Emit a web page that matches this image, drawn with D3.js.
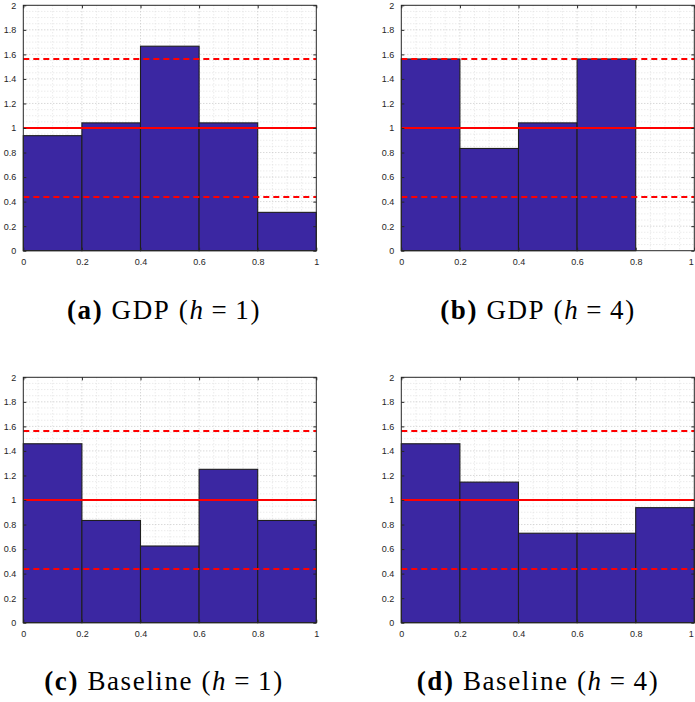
<!DOCTYPE html>
<html>
<head>
<meta charset="utf-8">
<script src="https://cdn.jsdelivr.net/npm/d3@7"></script>
<style>
  body { margin: 0; background: #fff; }
  svg { display: block; }
</style>
</head>
<body>
<script>
// Histogram bins on [0, 1]
const binEdges = [0, 0.2, 0.4, 0.6, 0.8, 1];

// Normalised bin heights for each panel
const gdpH1  = [0.9375, 1.0417, 1.6667, 1.0417, 0.3125];
const gdpH4  = [1.5625, 0.8333, 1.0417, 1.5625, 0];
const baseH1 = [1.4583, 0.8333, 0.625, 1.25, 0.8333];
const baseH4 = [1.4583, 1.1458, 0.7292, 0.7292, 0.9375];

// Reference level and confidence band
const refLevel = 1;
const bandUpper = 1.5625;
const bandLower = 0.4375;

// Tick values
const xTicks = [0, 0.2, 0.4, 0.6, 0.8, 1];
const yTicks = [0, 0.2, 0.4, 0.6, 0.8, 1, 1.2, 1.4, 1.6, 1.8, 2];
const minorStep = 0.05;

// Caption parts
const captionTags  = ["(a)", "(b)", "(c)", "(d)"];
const captionNames = ["GDP", "GDP", "Baseline", "Baseline"];
const captionH     = [1, 4, 1, 4];
const panelValues  = [gdpH1, gdpH4, baseH1, baseH4];

const W = 695, H = 702;
const svg = d3.select("body").append("svg").attr("width", W).attr("height", H);

const colLeft = [23.3, 401.3];
const rowTop = [5.3, 377.3];
const plotW = 293, plotH = 245.4;
const capX = [164, 538];
const capY = [319, 690];

const axisColor = "#262626";
const fmt = d => String(+d.toFixed(1));

panelValues.forEach((vals, i) => {
  const col = i % 2, row = Math.floor(i / 2);
  const g = svg.append("g").attr("transform", `translate(${colLeft[col]},${rowTop[row]})`);

  const x = d3.scaleLinear().domain([0, 1]).range([0, plotW]);
  const y = d3.scaleLinear().domain([0, 2]).range([plotH, 0]);

  // minor grid
  const onMajor = v => Math.abs(v / 0.2 - Math.round(v / 0.2)) < 1e-6;
  const minorX = d3.range(0, 1 + 1e-9, minorStep).filter(v => !onMajor(v));
  const minorY = d3.range(0, 2 + 1e-9, minorStep).filter(v => !onMajor(v));
  g.append("g").selectAll("line").data(minorX).join("line")
    .attr("x1", d => x(d)).attr("x2", d => x(d)).attr("y1", 0).attr("y2", plotH)
    .attr("stroke", "#dcdcdc").attr("stroke-width", 0.8).attr("stroke-dasharray", "1,2");
  g.append("g").selectAll("line").data(minorY).join("line")
    .attr("y1", d => y(d)).attr("y2", d => y(d)).attr("x1", 0).attr("x2", plotW)
    .attr("stroke", "#dcdcdc").attr("stroke-width", 0.8).attr("stroke-dasharray", "1,2");

  // major grid
  g.append("g").selectAll("line").data(xTicks.slice(1, -1)).join("line")
    .attr("x1", d => x(d)).attr("x2", d => x(d)).attr("y1", 0).attr("y2", plotH)
    .attr("stroke", "#c2c2c2").attr("stroke-width", 0.9).attr("stroke-dasharray", "1,2");
  g.append("g").selectAll("line").data(yTicks.slice(1, -1)).join("line")
    .attr("y1", d => y(d)).attr("y2", d => y(d)).attr("x1", 0).attr("x2", plotW)
    .attr("stroke", "#c2c2c2").attr("stroke-width", 0.9).attr("stroke-dasharray", "1,2");

  // bars
  g.append("g").selectAll("rect").data(vals).join("rect")
    .attr("x", (d, j) => x(binEdges[j]))
    .attr("width", (d, j) => x(binEdges[j + 1]) - x(binEdges[j]))
    .attr("y", d => y(d))
    .attr("height", d => y(0) - y(d))
    .attr("fill", "#3b27a2")
    .attr("stroke", "#1e1e1e").attr("stroke-width", 1.1);

  // reference lines
  g.append("line").attr("x1", 0).attr("x2", plotW)
    .attr("y1", y(refLevel)).attr("y2", y(refLevel))
    .attr("stroke", "#ff0000").attr("stroke-width", 2);
  [bandUpper, bandLower].forEach(v => {
    g.append("line").attr("x1", 0).attr("x2", plotW)
      .attr("y1", y(v)).attr("y2", y(v))
      .attr("stroke", "#ff0000").attr("stroke-width", 2).attr("stroke-dasharray", "6,4");
  });

  // axes box
  g.append("rect").attr("x", 0).attr("y", 0).attr("width", plotW).attr("height", plotH)
    .attr("fill", "none").attr("stroke", axisColor).attr("stroke-width", 1);

  // axes with inward ticks on all sides
  const tickStyle = sel => {
    sel.select(".domain").remove();
    sel.selectAll(".tick line").attr("stroke", axisColor);
    sel.selectAll(".tick text").attr("fill", axisColor)
      .style("font-family", "'Liberation Sans', Arial, Helvetica, sans-serif").style("font-size", "9px");
  };
  const bottomAxis = g.append("g").attr("transform", `translate(0,${plotH})`)
    .call(d3.axisBottom(x).tickValues(xTicks).tickFormat(fmt).tickSizeInner(-3).tickPadding(8))
    .call(tickStyle);
  // keep the last label of the right-hand column inside the page
  if (col === 1) {
    bottomAxis.selectAll(".tick text").filter(d => d === 1).attr("text-anchor", "end").attr("dx", "-1");
  }
  g.append("g")
    .call(d3.axisTop(x).tickValues(xTicks).tickFormat("").tickSizeInner(-3))
    .call(tickStyle);
  g.append("g")
    .call(d3.axisLeft(y).tickValues(yTicks).tickFormat(fmt).tickSizeInner(-3).tickPadding(7))
    .call(tickStyle);
  g.append("g").attr("transform", `translate(${plotW},0)`)
    .call(d3.axisRight(y).tickValues(yTicks).tickFormat("").tickSizeInner(-3))
    .call(tickStyle);

  // caption
  const t = svg.append("text")
    .attr("x", capX[col]).attr("y", capY[row])
    .attr("text-anchor", "middle")
    .style("font-family", "'Liberation Serif', 'Times New Roman', serif")
    .style("font-size", "27px").style("letter-spacing", "1.6px")
    .attr("fill", "#000");
  t.append("tspan").attr("font-weight", "bold").text(captionTags[i]);
  t.append("tspan").text("\u00a0" + captionNames[i] + "\u00a0(");
  t.append("tspan").attr("font-style", "italic").text("h");
  t.append("tspan").text("\u2009=\u2009" + captionH[i] + ")");
});
</script>
</body>
</html>
